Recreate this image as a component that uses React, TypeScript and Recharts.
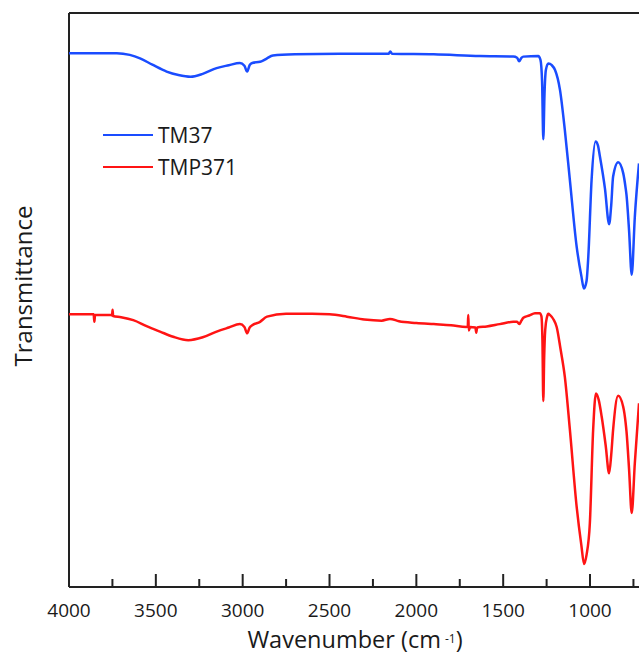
import React from 'react';
import { LineChart, Line, XAxis, YAxis, ReferenceLine, Customized } from 'recharts';

// ---- data ----
const SERIES_NAMES = ['TM37', 'TMP371'];
const SERIES_COLORS = ['#1a4cff', '#ff1414'];

const TM37_WN = [4000, 3725, 3650, 3591, 3520, 3438, 3370, 3300, 3230, 3150, 3080, 3016, 2990, 2974, 2960, 2945, 2900, 2883, 2860, 2826, 2700, 2440, 2160, 2150, 2140, 1900, 1634, 1442, 1420, 1408, 1395, 1384, 1298, 1285, 1276, 1269, 1262, 1254, 1240, 1220, 1202, 1173, 1145, 1116, 1077, 1050, 1035, 1020, 1010, 991, 968, 955, 943, 914, 890, 878, 867, 838, 809, 795, 790, 775, 760, 742, 718];
const TM37_T = [93.0, 93.0, 92.7, 92.1, 91.0, 89.8, 89.2, 88.9, 89.4, 90.4, 90.9, 91.3, 90.8, 89.8, 90.9, 91.3, 91.5, 91.7, 92.1, 92.6, 92.8, 92.9, 92.9, 93.3, 92.9, 92.8, 92.5, 92.4, 92.2, 91.6, 92.2, 92.4, 92.5, 91.8, 88.0, 78.0, 86.0, 90.1, 91.2, 90.9, 90.1, 86.6, 79.6, 70.9, 59.3, 54.2, 52.0, 53.3, 57.5, 70.9, 77.6, 77.0, 75.0, 69.4, 63.2, 66.5, 71.5, 74.0, 72.1, 69.5, 68.3, 62.0, 54.4, 64.5, 73.8];

const TMP371_WN = [4000, 3900, 3858, 3854, 3850, 3760, 3752, 3749, 3746, 3700, 3630, 3550, 3476, 3400, 3313, 3230, 3150, 3080, 3016, 2990, 2974, 2960, 2945, 2900, 2860, 2750, 2600, 2500, 2400, 2300, 2200, 2152, 2100, 2000, 1900, 1800, 1712, 1704, 1701, 1698, 1690, 1660, 1655, 1650, 1595, 1520, 1442, 1420, 1408, 1395, 1384, 1350, 1317, 1289, 1280, 1274, 1269, 1264, 1258, 1248, 1240, 1231, 1210, 1192, 1170, 1145, 1116, 1077, 1050, 1034, 1020, 1001, 982, 966, 950, 933, 910, 890, 878, 867, 838, 809, 795, 790, 775, 760, 742, 718];
const TMP371_T = [47.5, 47.5, 47.5, 46.2, 47.4, 47.4, 47.3, 48.3, 47.2, 47.0, 46.5, 45.4, 44.5, 43.6, 43.0, 43.5, 44.5, 45.2, 45.8, 45.3, 44.2, 45.2, 45.6, 46.2, 47.1, 47.6, 47.6, 47.5, 47.1, 46.6, 46.4, 46.7, 46.3, 46.0, 45.8, 45.6, 45.3, 45.4, 47.4, 44.7, 45.3, 45.2, 44.3, 45.2, 45.4, 45.8, 46.2, 46.2, 45.8, 46.4, 46.9, 47.3, 47.7, 47.7, 47.2, 43.0, 32.4, 40.0, 44.8, 47.0, 47.6, 47.4, 46.6, 45.3, 41.5, 36.6, 27.4, 14.0, 7.3, 4.0, 5.6, 11.1, 27.4, 33.7, 32.6, 29.7, 24.7, 19.8, 23.0, 27.4, 33.3, 31.4, 28.6, 27.1, 20.4, 12.9, 21.6, 32.0];

const X_TICKS = [4000, 3750, 3500, 3250, 3000, 2750, 2500, 2250, 2000, 1750, 1500, 1250, 1000, 750];
const X_DOMAIN = [718, 4000];
const Y_DOMAIN = [0, 100];
const X_TITLE = 'Wavenumber (cm';
const X_TITLE_SUP = '-1';
const Y_TITLE = 'Transmittance';

const tm37Data = TM37_WN.map((w, i) => ({ w, t: TM37_T[i] }));
const tmp371Data = TMP371_WN.map((w, i) => ({ w, t: TMP371_T[i] }));
const seriesData = [tm37Data, tmp371Data];

const FONT = '"Open Sans", "DejaVu Sans", sans-serif';
const AXIS = '#222';
const PLOT_BOTTOM = 587;

const XTick = (props: any) => {
  const { x, payload } = props;
  const major = payload.value % 500 === 0;
  return (
    <g>
      <line x1={x} x2={x} y1={PLOT_BOTTOM} y2={PLOT_BOTTOM - (major ? 13 : 8)} stroke={AXIS} strokeWidth={2} />
      {major && (
        <text x={x} y={PLOT_BOTTOM + 30} textAnchor="middle" fontFamily={FONT} fontSize={19} fill="#1a1a1a">
          {payload.value}
        </text>
      )}
    </g>
  );
};

const XTitle = () => (
  <text x={355} y={648} textAnchor="middle" fontFamily={FONT} fontSize={23.5} fill="#1a1a1a">
    {X_TITLE}
    <tspan dx={4} dy={-5} fontSize={12}>{X_TITLE_SUP}</tspan>
    <tspan dy={5}>)</tspan>
  </text>
);

const YTitle = () => (
  <text
    x={32}
    y={286}
    textAnchor="middle"
    transform="rotate(-90, 32, 286)"
    fontFamily={FONT}
    fontSize={24}
    fill="#1a1a1a"
  >
    {Y_TITLE}
  </text>
);

export default function App() {
  return (
    <div style={{ position: 'absolute', left: 0, top: 0, width: 639, height: 657, background: '#fff' }}>
      <LineChart width={639} height={657} margin={{ top: 13, right: 0, bottom: 0, left: 69 }}>
        <XAxis
          dataKey="w"
          type="number"
          domain={X_DOMAIN}
          reversed
          ticks={X_TICKS}
          interval={0}
          height={70}
          tickLine={false}
          tick={<XTick />}
          axisLine={false}
          allowDataOverflow
          label={<XTitle />}
        />
        <YAxis type="number" domain={Y_DOMAIN} hide />
        <ReferenceLine y={100} stroke={AXIS} strokeWidth={2} />
        <ReferenceLine y={0} stroke={AXIS} strokeWidth={2} />
        <ReferenceLine x={4000} stroke={AXIS} strokeWidth={2} />
        <Customized component={YTitle} />
        {SERIES_NAMES.map((name, i) => (
          <Line
            key={name}
            name={name}
            data={seriesData[i]}
            dataKey="t"
            type="monotone"
            stroke={SERIES_COLORS[i]}
            strokeWidth={2.5}
            dot={false}
            isAnimationActive={false}
          />
        ))}
      </LineChart>
      <div style={{ position: 'absolute', left: 103, top: 119 }}>
        {SERIES_NAMES.map((name, i) => (
          <div key={name} style={{ display: 'flex', alignItems: 'center', height: 32 }}>
            <div style={{ width: 50, height: 2.5, background: SERIES_COLORS[i] }} />
            <span style={{ marginLeft: 5, fontFamily: FONT, fontSize: 21, lineHeight: '32px', color: '#1a1a1a' }}>
              {name}
            </span>
          </div>
        ))}
      </div>
    </div>
  );
}
